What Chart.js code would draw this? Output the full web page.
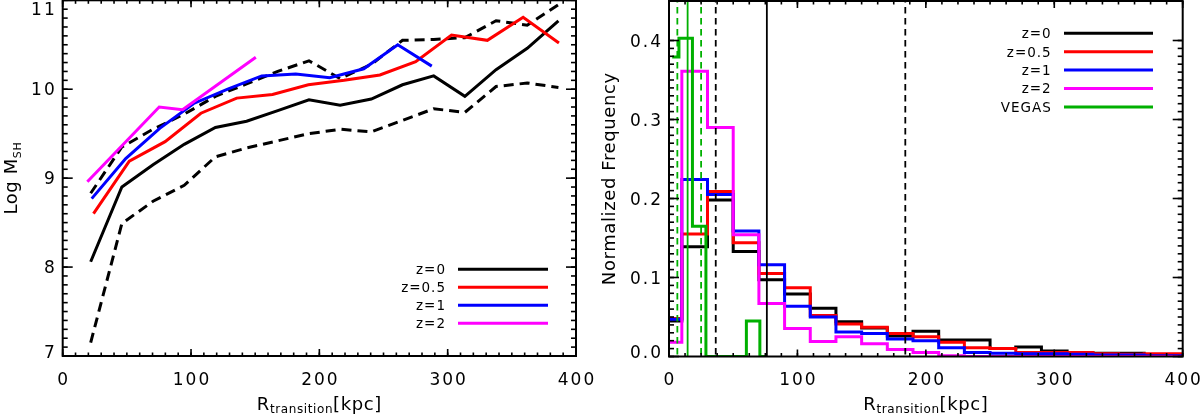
<!DOCTYPE html>
<html>
<head>
<meta charset="utf-8">
<title>Transition radius</title>
<script src="https://cdn.jsdelivr.net/npm/chart.js@4.4.1/dist/chart.umd.min.js"></script>
<style>
  html, body { margin: 0; padding: 0; background: #fff; }
  #wrap { position: relative; width: 1200px; height: 415px; }
  canvas { position: absolute; top: 0; }
</style>
</head>
<body>
<div id="wrap">
  <canvas id="massChart" width="600" height="415" style="left:0"></canvas>
  <canvas id="freqChart" width="600" height="415" style="left:600px"></canvas>
</div>
<script>
// ---- left panel: Log M_SH against transition radius ----
const radiusZ0 = [21.8, 46.1, 70.4, 94.7, 119, 143.3, 167.6, 191.9, 216.2, 240.5, 264.8, 289.1, 313.4, 337.7, 362, 386.3];
const massZ0 = [8.06, 8.9, 9.15, 9.38, 9.57, 9.64, 9.76, 9.88, 9.82, 9.89, 10.05, 10.15, 9.92, 10.22, 10.46, 10.77];
const massZ0Upper = [8.83, 9.35, 9.55, 9.72, 9.92, 10.06, 10.2, 10.32, 10.12, 10.28, 10.55, 10.56, 10.58, 10.77, 10.72, 10.95];
const massZ0Lower = [7.15, 8.49, 8.74, 8.92, 9.24, 9.34, 9.42, 9.5, 9.55, 9.52, 9.65, 9.78, 9.74, 10.03, 10.07, 10.02];
const radiusZ05 = [24, 51.9, 79.8, 107.7, 135.6, 163.5, 191.4, 219.3, 247.2, 275.1, 303, 330.9, 358.8, 386.7];
const massZ05 = [8.6, 9.19, 9.41, 9.73, 9.9, 9.94, 10.05, 10.1, 10.16, 10.31, 10.61, 10.55, 10.81, 10.52];
const radiusZ1 = [22.6, 49.1, 75.6, 102.1, 128.6, 155.1, 181.6, 208.1, 234.6, 261.1, 287.6];
const massZ1 = [8.77, 9.22, 9.56, 9.84, 10.0, 10.15, 10.17, 10.13, 10.23, 10.5, 10.26];
const radiusZ2 = [19.2, 75.2, 93.4, 150.5];
const massZ2 = [8.96, 9.8, 9.77, 10.36];

// ---- right panel: normalized histograms ----
const binCenters = [0, 20, 40, 60, 80, 100, 120, 140, 160, 180, 200, 220, 240, 260, 280, 300, 320, 340, 360, 380, 400];
const freqZ0 = [0.045, 0.139, 0.198, 0.133, 0.097, 0.079, 0.061, 0.044, 0.036, 0.026, 0.032, 0.021, 0.021, 0.010, 0.012, 0.007, 0.005, 0.004, 0.004, 0.002, 0.001];
const freqZ05 = [0.048, 0.155, 0.209, 0.144, 0.105, 0.087, 0.052, 0.041, 0.037, 0.029, 0.025, 0.018, 0.011, 0.010, 0.005, 0.005, 0.005, 0.0035, 0.003, 0.0035, 0.0035];
const freqZ1 = [0.047, 0.224, 0.205, 0.159, 0.116, 0.0635, 0.05, 0.031, 0.029, 0.022, 0.020, 0.011, 0.005, 0.004, 0.0035, 0.0035, 0.003, 0.002, 0.002, 0.001, 0.001];
const freqZ2 = [0.018, 0.361, 0.290, 0.154, 0.067, 0.0355, 0.019, 0.025, 0.016, 0.009, 0.005, 0.001, 0, 0, 0, 0, 0, 0, 0, 0, 0];
const vegasCenters = [2.5, 13, 23.5, 34, 44.5, 55, 65.5, 76];
const freqVegas = [0.379, 0.403, 0.165, 0, 0, 0, 0.045, 0];
const vegasMarks = [6.5, 14.5, 25];   // dashed, solid, dashed
const simMarks = [36.4, 76.2, 184];   // dashed, solid, dashed

// ---- axes and legends ----
const radiusTicks = [0, 100, 200, 300, 400];
const massTicks = [7, 8, 9, 10, 11];
const freqTicks = [0.0, 0.1, 0.2, 0.3, 0.4];
const massLegend = ['z=0', 'z=0.5', 'z=1', 'z=2'];
const freqLegend = ['z=0', 'z=0.5', 'z=1', 'z=2', 'VEGAS'];

const COLORS = { 'z=0': '#000000', 'z=0.5': '#ff0000', 'z=1': '#0000ff', 'z=2': '#ff00ff', 'VEGAS': '#00b000' };
const FONT = '"DejaVu Sans", sans-serif';

const toPoints = (xs, ys) => xs.map((x, i) => ({ x, y: ys[i] }));

function drawRich(ctx, parts, x, y, vertical, spacing) {
  ctx.save();
  ctx.translate(x, y);
  if (vertical) ctx.rotate(-Math.PI / 2);
  ctx.letterSpacing = spacing + 'px';
  ctx.textAlign = 'left';
  ctx.textBaseline = 'alphabetic';
  let w = 0;
  parts.forEach(p => { ctx.font = p[1] + 'px ' + FONT; w += ctx.measureText(p[0]).width; });
  let cx = -w / 2;
  parts.forEach(p => {
    ctx.font = p[1] + 'px ' + FONT;
    ctx.fillText(p[0], cx, p[2]);
    cx += ctx.measureText(p[0]).width;
  });
  ctx.restore();
}

// IDL style box: inward ticks on all four sides, labels, titles and legend
const idlAxes = {
  id: 'idlAxes',
  afterDatasetsDraw(chart) {
    const o = chart.config.options.plugins.idlAxes;
    const { ctx, chartArea: a } = chart;
    const sx = chart.scales.x, sy = chart.scales.y;
    ctx.save();
    ctx.setLineDash([]);
    ctx.strokeStyle = '#000';
    ctx.lineWidth = 1.6;
    const seg = (xa, ya, xb, yb) => {
      ctx.beginPath(); ctx.moveTo(xa, ya); ctx.lineTo(xb, yb); ctx.stroke();
    };
    const tickX = (v, len) => {
      const p = sx.getPixelForValue(v);
      seg(p, a.bottom, p, a.bottom - len);
      seg(p, a.top, p, a.top + len);
    };
    const tickY = (v, len) => {
      const p = sy.getPixelForValue(v);
      seg(a.left, p, a.left + len, p);
      seg(a.right, p, a.right - len, p);
    };
    const xFirst = o.xTicks[0], xLast = o.xTicks[o.xTicks.length - 1];
    const nx = Math.round((xLast - xFirst) / o.xMinor);
    for (let k = 0; k <= nx; k++) tickX(xFirst + k * o.xMinor, 3.5);
    o.xTicks.forEach(v => tickX(v, 7));
    const yFirst = o.yTicks[0], yLast = o.yTicks[o.yTicks.length - 1];
    const ny = Math.round((yLast - yFirst) / o.yMinor);
    for (let k = 0; k <= ny; k++) tickY(yFirst + k * o.yMinor, 5);
    o.yTicks.forEach(v => tickY(v, 10));
    ctx.lineWidth = 2;
    ctx.strokeRect(a.left, a.top, a.right - a.left, a.bottom - a.top);

    // tick labels
    ctx.fillStyle = '#000';
    ctx.font = '17px ' + FONT;
    ctx.letterSpacing = '2px';
    ctx.textBaseline = 'alphabetic';
    ctx.textAlign = 'center';
    o.xTicks.forEach(v => ctx.fillText(String(v), sx.getPixelForValue(v) + 1, 385));
    ctx.textAlign = 'right';
    o.yTicks.forEach(v => {
      let p = sy.getPixelForValue(v);
      p = Math.min(Math.max(p, a.top + 8), a.bottom - 4.5);
      ctx.fillText(o.yFormat(v), a.left - 6, p + 6.2);
    });

    // axis titles
    drawRich(ctx, o.xTitle, (a.left + a.right) / 2, 409.5, false, 0.6);
    drawRich(ctx, o.yTitle, o.yTitleX, (a.top + a.bottom) / 2, true, 0.6);

    // legend: label on the left, line sample on the right
    const lg = o.legend;
    ctx.font = '13.5px ' + FONT;
    ctx.letterSpacing = '1px';
    ctx.textAlign = 'right';
    ctx.lineWidth = 3;
    lg.items.forEach((label, i) => {
      const y = lg.y0 + i * lg.dy;
      ctx.fillText(label, lg.textRight + 1, y + 4.8);
      ctx.strokeStyle = COLORS[label];
      seg(lg.x0, y, lg.x1, y);
    });
    ctx.restore();
  }
};

function boxScales(xHeight, yWidth, yMin, yMax) {
  return {
    x: {
      type: 'linear', min: 0, max: 400,
      ticks: { display: false }, grid: { display: false }, border: { display: false },
      afterFit(s) { s.height = xHeight; s.paddingLeft = 0; s.paddingRight = 0; }
    },
    y: {
      type: 'linear', min: yMin, max: yMax,
      ticks: { display: false }, grid: { display: false }, border: { display: false },
      afterFit(s) { s.width = yWidth; s.paddingTop = 0; s.paddingBottom = 0; }
    }
  };
}

const lineStyle = (label, data, order, dash) => ({
  label, data, order,
  borderColor: dash ? '#000' : COLORS[label],
  borderWidth: 3,
  borderDash: dash || [],
  pointRadius: 0,
  tension: 0,
  fill: false
});

new Chart(document.getElementById('massChart'), {
  type: 'line',
  data: {
    datasets: [
      lineStyle('z=2', toPoints(radiusZ2, massZ2), 0),
      lineStyle('z=1', toPoints(radiusZ1, massZ1), 1),
      lineStyle('z=0.5', toPoints(radiusZ05, massZ05), 2),
      lineStyle('z=0', toPoints(radiusZ0, massZ0), 3),
      lineStyle('z=0 upper', toPoints(radiusZ0, massZ0Upper), 4, [10, 6]),
      lineStyle('z=0 lower', toPoints(radiusZ0, massZ0Lower), 4, [10, 6])
    ]
  },
  options: {
    responsive: false,
    animation: false,
    devicePixelRatio: 1,
    layout: { padding: { left: 0, top: 0.3, right: 24, bottom: 0 } },
    scales: boxScales(59, 62.7, 7, 11),
    plugins: {
      legend: { display: false },
      tooltip: { enabled: false },
      idlAxes: {
        xTicks: radiusTicks, xMinor: 10,
        yTicks: massTicks, yMinor: 0.1, yFormat: v => String(v),
        xTitle: [['R', 18, 0], ['transition', 12, 3.5], ['[kpc]', 18, 0]],
        yTitle: [['Log M', 18, 0], ['SH', 11, 3.5]],
        yTitleX: 17,
        legend: { items: massLegend, textRight: 445, x0: 458, x1: 548, y0: 269.3, dy: 18 }
      }
    }
  },
  plugins: [idlAxes]
});

const histStyle = (label, xs, ys, order) => ({
  label, order,
  data: toPoints(xs, ys),
  borderColor: COLORS[label],
  borderWidth: 3,
  stepped: 'middle',
  pointRadius: 0,
  fill: false
});

const markStyle = (x, i, color) => ({
  label: 'mark ' + x,
  order: 0,
  data: [{ x, y: -1 }, { x, y: 1 }],
  borderColor: color,
  borderWidth: 1.8,
  borderDash: i === 1 ? [] : [6.5, 4.5],
  pointRadius: 0
});

new Chart(document.getElementById('freqChart'), {
  type: 'line',
  data: {
    datasets: [
      ...vegasMarks.map((x, i) => markStyle(x, i, COLORS['VEGAS'])),
      ...simMarks.map((x, i) => markStyle(x, i, '#000')),
      histStyle('VEGAS', vegasCenters, freqVegas, 1),
      histStyle('z=2', binCenters, freqZ2, 2),
      histStyle('z=1', binCenters, freqZ1, 3),
      histStyle('z=0.5', binCenters, freqZ05, 4),
      histStyle('z=0', binCenters, freqZ0, 5)
    ]
  },
  options: {
    responsive: false,
    animation: false,
    devicePixelRatio: 1,
    layout: { padding: { left: 0, top: 1, right: 17.3, bottom: 0 } },
    scales: boxScales(58.5, 69, 0, 0.45),
    plugins: {
      legend: { display: false },
      tooltip: { enabled: false },
      idlAxes: {
        xTicks: radiusTicks, xMinor: 12.5,
        yTicks: freqTicks, yMinor: 0.01, yFormat: v => v.toFixed(1),
        xTitle: [['R', 18, 0], ['transition', 12, 3.5], ['[kpc]', 18, 0]],
        yTitle: [['Normalized Frequency', 18, 0]],
        yTitleX: 15,
        legend: { items: freqLegend, textRight: 450.7, x0: 464, x1: 553, y0: 33.3, dy: 18.4 }
      }
    }
  },
  plugins: [idlAxes]
});
</script>
</body>
</html>
